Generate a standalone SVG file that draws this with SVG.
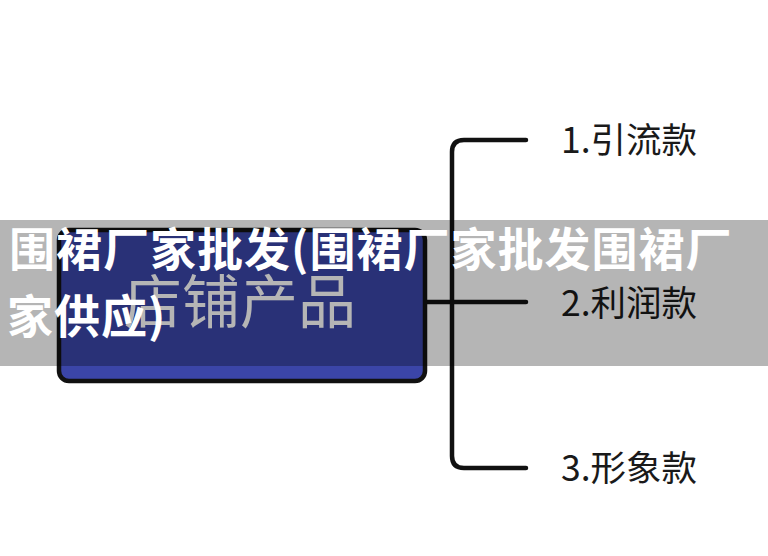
<svg xmlns="http://www.w3.org/2000/svg" width="768" height="556" viewBox="0 0 768 556">
<style>
.conn{fill:none;stroke:#111;stroke-width:4.5;stroke-linecap:round;stroke-linejoin:round}
.lbl{font-family:"Noto Sans CJK SC","Noto Sans",sans-serif;font-size:35.5px;fill:#1a1a1a}
.ttl{font-family:"Noto Sans CJK SC","Noto Sans",sans-serif;font-size:46px;font-weight:bold;fill:#fff;letter-spacing:1px}
</style>
<rect width="768" height="556" fill="#fff"/>
<g id="connectors">
<path class="conn" d="M425 302 H452"/>
<path class="conn" d="M526 140 H464 Q452 140 452 152 V456 Q452 468 464 468 H526"/>
<path class="conn" d="M452 302 H526"/>
</g>
<g id="root">
<rect x="59" y="230" width="366" height="151" rx="10" fill="#3b45a8" stroke="#111" stroke-width="4.5"/>
<text x="240" y="323" text-anchor="middle" font-family="'Noto Sans CJK SC','Noto Sans',sans-serif" font-size="58" fill="#fff">店铺产品</text>
</g>
<g id="n1"><text class="lbl" x="561" y="153">1.引流款</text></g>
<g id="n2"><text class="lbl" x="561" y="316">2.利润款</text></g>
<g id="n3"><text class="lbl" x="561" y="481">3.形象款</text></g>
<rect x="0" y="220" width="768" height="146" fill="#000" fill-opacity="0.29"/>
<text class="ttl" x="9" y="266">围裙厂家批发(围裙厂家批发围裙厂</text>
<text class="ttl" x="7" y="333">家供应)</text>
</svg>
